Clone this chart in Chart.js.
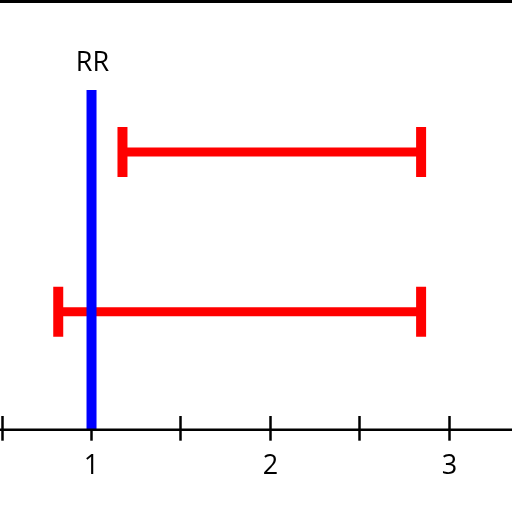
<!DOCTYPE html>
<html>
<head>
<meta charset="utf-8">
<script src="https://cdn.jsdelivr.net/npm/chart.js@4/dist/chart.umd.min.js"></script>
<style>
  html, body { margin: 0; padding: 0; background: #fff; }
</style>
</head>
<body>
<canvas id="rr-chart" width="512" height="512"></canvas>
<script>
// rows of the forest plot (1 = top row)
const rows = [1, 2]
const lowerCI = [1.173, 0.814]
const upperCI = [2.842, 2.842]

// reference line
const refValue = 1
const refLabel = 'RR'
const refSpan = [0.6125, 2.7375] // from just above row 1 down to the axis line

const xTickLabels = ['1', '2', '3'] // only whole numbers get a label

const font = "'Open Sans', sans-serif"

// axis lines + label drawn on top of the scales
const axisPlugin = {
    id: 'axisLines',
    afterDatasetsDraw(chart) {
        const { ctx, chartArea, scales } = chart
        ctx.save()
        ctx.strokeStyle = '#000'
        // frame line at the very top
        ctx.lineWidth = 3
        ctx.beginPath()
        ctx.moveTo(0, chartArea.top + 1.5)
        ctx.lineTo(chart.width, chartArea.top + 1.5)
        ctx.stroke()
        // x axis line, crossing the tick marks
        const yAxis = scales.y.getPixelForValue(refSpan[1])
        ctx.lineWidth = 2.5
        ctx.beginPath()
        ctx.moveTo(0, yAxis)
        ctx.lineTo(chart.width, yAxis)
        ctx.stroke()
        // RR label over the reference line
        ctx.fillStyle = '#000'
        ctx.font = '27px ' + font
        ctx.textAlign = 'center'
        ctx.textBaseline = 'alphabetic'
        ctx.fillText(refLabel, scales.x.getPixelForValue(refValue) + 1, scales.y.getPixelForValue(refSpan[0]) - 19)
        ctx.restore()
    }
}

const ciSets = rows.map((row, i) => ({
    data: [{ x: lowerCI[i], y: row }, { x: upperCI[i], y: row }],
    showLine: true,
    borderColor: '#ff0000',
    borderWidth: 9,
    pointStyle: 'line',
    pointRotation: 90,
    pointRadius: 25,
    pointBorderWidth: 10,
    pointBorderColor: '#ff0000',
    pointHoverRadius: 25
}))

const refSet = {
    data: [{ x: refValue, y: refSpan[0] }, { x: refValue, y: refSpan[1] }],
    showLine: true,
    borderColor: '#0000ff',
    borderWidth: 10,
    pointRadius: 0,
    clip: false
}

new Chart(document.getElementById('rr-chart'), {
    type: 'scatter',
    data: { datasets: [refSet, ...ciSets] },
    options: {
        responsive: false,
        animation: false,
        devicePixelRatio: 1,
        layout: { autoPadding: false, padding: { left: 0, right: 0, top: 0, bottom: 20 } },
        plugins: { legend: { display: false }, tooltip: { enabled: false } },
        scales: {
            x: {
                type: 'linear',
                min: 0.4885,
                max: 3.35,
                border: { display: false },
                grid: {
                    drawOnChartArea: false,
                    drawTicks: true,
                    tickLength: 25,
                    tickWidth: 2.5,
                    tickColor: '#000'
                },
                ticks: {
                    stepSize: 0.5,
                    includeBounds: false,
                    autoSkip: false,
                    maxRotation: 0,
                    padding: 0,
                    color: '#000',
                    font: { family: font, size: 27, lineHeight: 1.9 },
                    callback: (value) => xTickLabels.includes(String(value)) ? String(value) : ''
                }
            },
            y: {
                type: 'linear',
                display: false,
                reverse: true,
                min: 0.05,
                max: 2.65
            }
        }
    },
    plugins: [axisPlugin]
})
</script>
</body>
</html>
